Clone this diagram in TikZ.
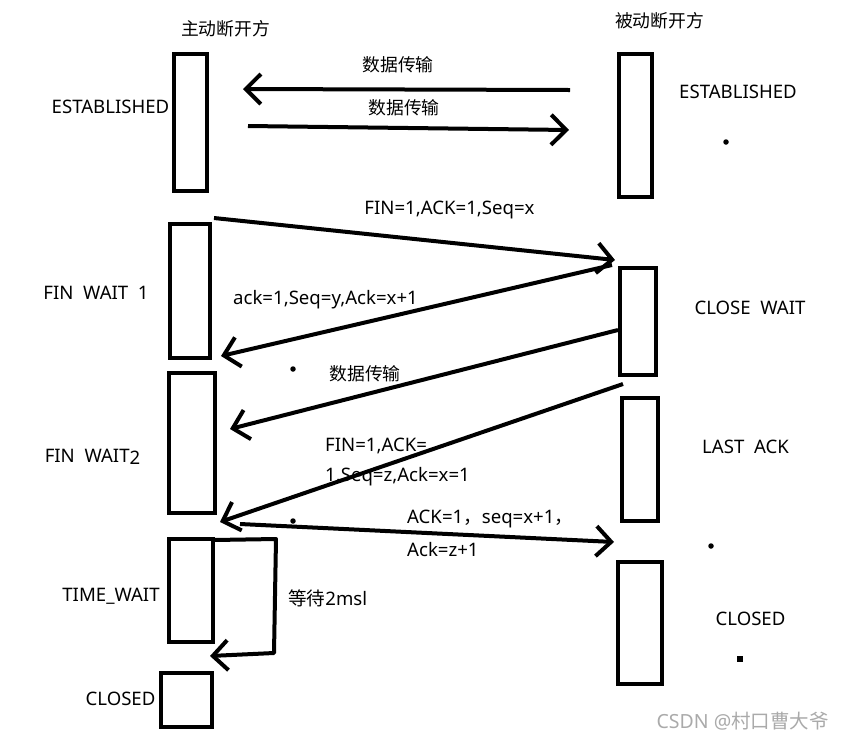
\documentclass[tikz,border=0pt]{standalone}
\usepackage{fontspec}
\setmainfont{Noto Sans}
\newfontfamily\cjk{Noto Sans CJK SC}
\usetikzlibrary{arrows.meta}
\begin{document}
\begin{tikzpicture}[x=1pt,y=-1pt,
  lane/.style={draw=black,line width=4pt,inner sep=0pt,outer sep=0pt,fill=none},
  msg/.style={line width=4pt,-{Straight Barb[length=15pt,width=30pt]}},
  plain/.style={line width=4pt},
  lbl/.style={inner sep=0pt,font=\fontsize{18.6}{22}\selectfont},
  zh/.style={inner sep=0pt,font=\cjk\fontsize{17.8}{22}\selectfont},
  dotmark/.style={fill=black,circle,inner sep=0pt,minimum size=5.5pt},
  sqmark/.style={fill=black,inner sep=0pt,minimum size=6pt}]
\useasboundingbox (0,0) rectangle (844,740);
% lanes, left
\node[lane,minimum width=33pt,minimum height=137pt] (L1) at (190.5,122.5) {};
\node[lane,minimum width=40pt,minimum height=134pt] (L2) at (190,291) {};
\node[lane,minimum width=46pt,minimum height=140pt] (L3) at (192,443) {};
\node[lane,minimum width=44pt,minimum height=103pt] (L4) at (191,590.5) {};
\node[lane,minimum width=51pt,minimum height=54pt] (L5) at (186.5,700) {};
% lanes, right
\node[lane,minimum width=33pt,minimum height=143pt] (R1) at (635.5,125.5) {};
\node[lane,minimum width=36pt,minimum height=107pt] (R2) at (638,321.5) {};
\node[lane,minimum width=36pt,minimum height=123pt] (R3) at (640,459.5) {};
\node[lane,minimum width=44pt,minimum height=122pt] (R4) at (640,623) {};
% headers and states
\node[zh] (hA) at (225.5,29) {主动断开方};
\node[zh] (hB) at (659.5,21) {被动断开方};
\node[lbl] (sL1) at (110.5,107) {ESTABLISHED};
\node[lbl] (sR1) at (738,92) {ESTABLISHED};
\node[lbl] (sL2) at (96,293) {FIN\ \ WAIT\ \ 1};
\node[lbl] (sR2) at (750,308) {CLOSE\ \ WAIT};
\node[lbl] (sL3) at (92.5,457) {FIN\ \ WAIT\raisebox{-2pt}{2}};
\node[lbl] (sR3) at (745.5,447) {LAST\ \ ACK};
\node[lbl] (sL4) at (111,596) {TIME\_WAIT};
\node[lbl] (sL5) at (120.5,699) {CLOSED};
\node[lbl] (sR4) at (750.5,619) {CLOSED};
% message labels
\node[zh] (m1) at (398,65) {数据传输};
\node[zh] (m2) at (404,108) {数据传输};
\node[lbl] (m3) at (449.5,210) {FIN=1,ACK=1,Seq=x};
\node[lbl,anchor=west] (m4) at (233,300) {ack=1,Seq=y,Ack=x+1};
\node[zh] (m5) at (365,374) {数据传输};
\node[lbl,anchor=west] (m6a) at (325,446) {FIN=1,ACK=};
\node[lbl,anchor=west] (m6b) at (325,477) {1,Seq=z,Ack=x=1};
\node[lbl,anchor=west] (m7a) at (407,519) {ACK=1{\cjk ，}seq=x+1{\cjk ，}};
\node[lbl,anchor=west] (m7b) at (407,550) {Ack=z+1};
\node[lbl,anchor=west] (m8) at (288,598) {{\cjk 等待}2msl};
\node[anchor=east,inner sep=0pt,text={rgb,255:red,170;green,170;blue,170},font=\fontsize{19.5}{22}\selectfont] (wm) at (829,721) {CSDN @{\cjk 村口曹大爷}};
% connector end points
\coordinate (a1s) at (570,90);  \coordinate (a1e) at (243,89);
\coordinate (a2s) at (248,126); \coordinate (a2e) at (569,130);
\coordinate (a3s) at (214,218); \coordinate (a3e) at (615,260);
\coordinate (a4s) at (612,265); \coordinate (a4e) at (221,356);
\coordinate (a5s) at (618,330); \coordinate (a5e) at (230,429);
\coordinate (a6s) at (623,384); \coordinate (a6e) at (220,522);
\coordinate (a7s) at (240,524); \coordinate (a7e) at (614,542);
\coordinate (w0) at (214,540); \coordinate (w1) at (276,539);
\coordinate (w2) at (274,653);  \coordinate (w3) at (210,656);
% connectors
\draw[msg] (a1s) -- (a1e);
\draw[msg] (a2s) -- (a2e);
\draw[msg] (a3s) -- (a3e);
\draw[msg] (a4s) -- (a4e);
\draw[msg] (a5s) -- (a5e);
\draw[msg] (a6s) -- (a6e);
\draw[msg] (a7s) -- (a7e);
\draw[msg,line join=round] (w0) -- (w1) -- (w2) -- (w3);
% stray dots
\node[dotmark] (d1) at (726,142) {};
\node[dotmark] (d2) at (293,369) {};
\node[dotmark] (d3) at (293,521) {};
\node[dotmark] (d4) at (711,546) {};
\node[sqmark] (d5) at (740,659) {};
\end{tikzpicture}
\end{document}
